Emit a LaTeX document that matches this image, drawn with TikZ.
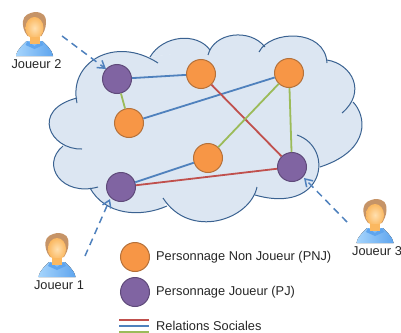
\documentclass[tikz,border=0pt]{standalone}
\usepackage{fontspec}
\setmainfont{Liberation Sans}
\usetikzlibrary{arrows.meta}
\definecolor{pnj}{HTML}{F79646}
\definecolor{pnjline}{HTML}{B5713A}
\definecolor{pj}{HTML}{8064A2}
\definecolor{pjline}{HTML}{5F4A7A}
\definecolor{sky}{HTML}{DCE6F2}
\definecolor{skyline}{HTML}{3A6291}
\definecolor{rel1}{HTML}{C0504D}
\definecolor{rel2}{HTML}{4F81BD}
\definecolor{rel3}{HTML}{9BBB59}
\definecolor{hair}{HTML}{C69467}
\definecolor{shirtA}{HTML}{A5D4FC}
\definecolor{shirtB}{HTML}{5FA5EE}
\definecolor{skinA}{HTML}{FFE0B0}
\definecolor{skinB}{HTML}{FBB860}
\begin{document}
\begin{tikzpicture}[x=1pt, y=-1pt, >={Straight Barb[length=7pt, width=9pt]},
  pnjnode/.style = {draw=pnjline, fill=pnj, circle, line width=1pt, minimum size=29pt, inner sep=0pt},
  pjnode/.style = {draw=pjline, fill=pj, circle, line width=1pt, minimum size=29pt, inner sep=0pt},
  lab/.style = {font=\fontsize{12.8}{15}\selectfont, text=black!85, anchor=west, inner sep=0pt},
  relA/.style = {rel1, line width=1.8pt},
  relB/.style = {rel2, line width=1.8pt},
  relC/.style = {rel3, line width=1.8pt},
  lien/.style = {rel2, line width=1.5pt, dash pattern=on 7pt off 5pt, ->},
  joueur/.pic = {
    \fill[left color=shirtA, right color=shirtB] (-18.5,0) .. controls (-17,-8) and (-10,-12) .. (-8,-15) -- (8,-15) .. controls (10,-12) and (17,-8) .. (18.5,0) -- cycle;
    \fill[shirtB] (-7,-15) -- (0,-10) -- (7,-15) -- (9,-11) -- (0,-7) -- (-9,-11) -- cycle;
    \fill[hair] (0,-44) .. controls (9,-44) and (12,-40) .. (11.5,-33) .. controls (11.5,-28) and (9,-23) .. (7,-20) -- (-7,-20) .. controls (-11,-25) and (-12,-30) .. (-11.5,-35) .. controls (-11,-41) and (-5,-43) .. (0,-44) -- cycle;
    \shade[inner color=skinA, outer color=skinB] (0,-28) ellipse (9 and 11);
    \fill[skinB] (-5,-19) rectangle (5,-12);
    \node[lab, anchor=center] (nom) at (2,8) {#1};
  }]
\useasboundingbox (0,0) rectangle (401,332);
% nuage
\def\lobes{{(77,103) .. controls (68,62) and (115,35) .. (158,63)},
  {(150,57) .. controls (163,35) and (197,32) .. (210,50)},
  {(208,55) .. controls (214,32) and (250,28) .. (265,47)},
  {(259,52) .. controls (270,30) and (325,28) .. (327,63)},
  {(327,60) .. controls (352,64) and (367,92) .. (342,113)},
  {(353,102) .. controls (366,115) and (372,150) .. (320,167)},
  {(297,135) .. controls (335,148) and (325,215) .. (255,195)},
  {(257,187) .. controls (250,220) and (190,240) .. (163,198)},
  {(167,206) .. controls (140,218) and (105,215) .. (90,188)},
  {(98,187) .. controls (62,197) and (40,165) .. (63,146)},
  {(82,149) .. controls (50,150) and (30,110) .. (77,98)}}
\fill[sky] (77,98) -- (150,57) -- (209,49) -- (262,48) -- (327,61) -- (352,102) -- (356,125) -- (320,167) -- (257,195) -- (167,204) -- (140,210) -- (92,188) -- (63,146) -- cycle;
\foreach \lobe in \lobes { \fill[sky] \lobe -- cycle; }
\foreach \lobe in \lobes { \draw[skyline, line width=1pt] \lobe; }
% personnages
\node[pjnode] (pj2) at (117,79) {};
\node[pnjnode] (pnj1) at (201,74) {};
\node[pnjnode] (pnj2) at (129,123) {};
\node[pnjnode] (pnj3) at (289,73) {};
\node[pnjnode] (pnj4) at (208,158) {};
\node[pjnode] (pj3) at (292,167) {};
\node[pjnode] (pj1) at (121,187) {};
% relations
\draw[relB] (pj2) -- (pnj1);
\draw[relB] (pnj2) -- (pnj3);
\draw[relB] (pj1) -- (pnj4);
\draw[relA] (pnj1) -- (pj3);
\draw[relA] (pj1) -- (pj3);
\draw[relC] (pj2) -- (pnj2);
\draw[relC] (pnj3) -- (pnj4);
\draw[relC] (pnj3) -- (pj3);
% joueurs
\pic (j2) at (34.5,56) {joueur={Joueur 2}};
\pic (j1) at (57,277) {joueur={Joueur 1}};
\pic (j3) at (375,243) {joueur={Joueur 3}};
\coordinate (d2) at (62,36);
\coordinate (d1) at (85,256);
\coordinate (d3) at (347,222);
\coordinate (f2) at (106,69);
\coordinate (f1) at (110,199);
\coordinate (f3) at (304,178);
\draw[lien] (d2) -- (f2);
\draw[lien] (d1) -- (f1);
\draw[lien] (d3) -- (f3);
% legende
\node[pnjnode] (lpnj) at (135,257) {};
\node[pjnode] (lpj) at (135,292) {};
\node[lab] (tpnj) at (156,257.5) {Personnage Non Joueur (PNJ)};
\node[lab] (tpj) at (156,292) {Personnage Joueur (PJ)};
\node[lab] (trel) at (156,325.5) {Relations Sociales};
\coordinate (a1) at (119,320); \coordinate (b1) at (149,320);
\coordinate (a2) at (119,326); \coordinate (b2) at (149,326);
\coordinate (a3) at (119,332); \coordinate (b3) at (149,332);
\draw[relA] (a1) -- (b1);
\draw[relB] (a2) -- (b2);
\draw[relC] (a3) -- (b3);
\end{tikzpicture}
\end{document}
